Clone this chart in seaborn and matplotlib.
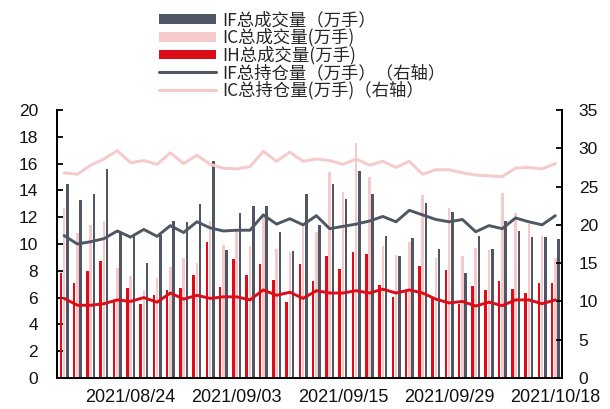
import numpy as np
import pandas as pd
import matplotlib
matplotlib.use("Agg")
import matplotlib.pyplot as plt
import seaborn as sns
from matplotlib.patches import Patch
from matplotlib.lines import Line2D

# Trading days
dates = [
    "2021/08/17", "2021/08/18", "2021/08/19", "2021/08/20", "2021/08/23",
    "2021/08/24", "2021/08/25", "2021/08/26", "2021/08/27", "2021/08/30",
    "2021/08/31", "2021/09/01", "2021/09/02", "2021/09/03", "2021/09/06",
    "2021/09/07", "2021/09/08", "2021/09/09", "2021/09/10", "2021/09/13",
    "2021/09/14", "2021/09/15", "2021/09/16", "2021/09/17", "2021/09/22",
    "2021/09/23", "2021/09/24", "2021/09/27", "2021/09/28", "2021/09/29",
    "2021/09/30", "2021/10/08", "2021/10/11", "2021/10/12", "2021/10/13",
    "2021/10/14", "2021/10/15", "2021/10/18",
]

# Daily volume (10k lots), left axis
if_volume = [14.45, 13.3, 13.7, 15.6, 10.8, 10.7, 8.6, 10.7, 11.7, 11.67,
             13.0, 16.2, 9.55, 12.3, 12.8, 12.8, 10.9, 9.5, 13.7,
             11.4, 14.45, 13.36, 15.45, 13.73, 10.6, 9.13, 10.45, 13.08,
             9.6, 12.36, 7.8, 10.6, 9.6, 11.74, 11.0, 10.55, 10.55, 10.35]
ic_volume = [12.7, 10.8, 11.4, 11.7, 8.2, 7.6, 6.6, 7.5, 8.3, 8.96,
             8.6, 11.7, 9.9, 11.0, 9.85, 12.2, 9.6, 9.4, 11.4,
             10.9, 15.4, 13.86, 17.56, 14.98, 9.88, 9.18, 10.15, 13.66,
             8.93, 12.66, 9.1, 9.73, 9.55, 13.8, 12.34, 11.5, 10.6, 8.93]
ih_volume = [7.8, 7.06, 8.0, 8.7, 5.7, 6.7, 5.5, 6.2, 6.6, 6.7,
             7.7, 10.15, 6.8, 8.9, 7.7, 8.5, 7.3, 5.7, 8.5,
             7.24, 9.13, 8.1, 9.38, 9.25, 6.94, 6.07, 6.57, 8.36,
             6.07, 8.06, 5.52, 6.87, 6.57, 7.24, 6.64, 6.32, 7.06, 7.1]

# Open interest (10k lots), right axis
if_oi = [18.6, 17.5, 17.8, 18.2, 19.2, 18.4, 19.4, 18.5, 19.9, 19.0,
         20.4, 19.6, 19.2, 19.3, 19.3, 21.3, 20.1, 20.8, 20.0,
         21.2, 19.5, 19.8, 20.1, 20.5, 21.1, 20.4, 21.9, 21.3,
         20.7, 20.4, 20.7, 19.1, 19.9, 19.5, 20.9, 20.4, 20.0, 21.2]
ic_oi = [26.8, 26.6, 27.8, 28.6, 29.7, 28.1, 28.4, 27.9, 29.4, 28.0,
         29.1, 27.9, 27.4, 27.3, 27.6, 29.6, 28.3, 29.5, 28.3,
         28.6, 28.4, 27.9, 28.6, 27.8, 28.3, 27.5, 28.3, 26.6,
         27.2, 27.2, 26.8, 26.5, 26.4, 26.3, 27.4, 27.5, 27.3, 28.0]
ih_oi = [10.4, 9.5, 9.5, 9.7, 10.2, 10.0, 10.5, 9.9, 11.1, 10.3,
         10.8, 10.4, 10.6, 10.6, 10.2, 11.5, 10.8, 11.2, 10.4,
         11.4, 11.1, 11.1, 11.4, 11.1, 11.6, 11.1, 11.5, 11.1,
         10.3, 9.8, 10.0, 9.4, 9.9, 9.45, 10.2, 10.2, 9.7, 10.2]

legend_labels = [
    "IF总成交量（万手）",
    "IC总成交量(万手)",
    "IH总成交量(万手)",
    "IF总持仓量（万手）（右轴）",
    "IC总持仓量(万手)（右轴）",
]
tick_every = 8
left_ticks = list(range(0, 21, 2))
right_ticks = list(range(0, 36, 5))

DARK = "#4E5763"
PINK = "#F6C9CB"
RED = "#DC0C18"

sns.set_theme(style="white")
plt.rcParams["font.family"] = ["Liberation Sans", "Noto Sans CJK SC", "DejaVu Sans"]

n = len(dates)
idx = np.arange(n)

vol = pd.DataFrame({
    "date": dates * 3,
    "series": ["IH"] * n + ["IC"] * n + ["IF"] * n,
    "volume": ih_volume + ic_volume + if_volume,
})

fig = plt.figure(figsize=(6.1, 4.09), dpi=100)
ax = fig.add_axes([57.5 / 610, 1 - 378 / 409, (562 - 57.5) / 610, (378 - 110) / 409])

sns.barplot(data=vol, x="date", y="volume", hue="series",
            hue_order=["IH", "IC", "IF"], palette=[RED, PINK, DARK],
            width=0.735, gap=0.22, saturation=1, linewidth=0,
            errorbar=None, legend=False, ax=ax)

ax2 = ax.twinx()
sns.lineplot(x=idx, y=ic_oi, color=PINK, lw=2.1, ax=ax2)
sns.lineplot(x=idx, y=if_oi, color=DARK, lw=2.1, ax=ax2)
sns.lineplot(x=idx, y=ih_oi, color=RED, lw=2.1, ax=ax2)

ax.set_xlim(-0.5, n - 0.5)
ax.set_ylim(0, 20)
ax2.set_ylim(0, 35)
ax.set_yticks(left_ticks)
ax2.set_yticks(right_ticks)
tick_pos = list(range(n - 1, -1, -tick_every))[::-1]
ax.set_xticks(tick_pos)
ax.set_xticklabels([dates[i] for i in tick_pos])
for a in (ax, ax2):
    a.set_xlabel("")
    a.set_ylabel("")
    a.spines["top"].set_visible(False)
    for s in ("left", "right", "bottom"):
        a.spines[s].set_color("black")
        a.spines[s].set_linewidth(1.3)

ax.tick_params(axis="y", direction="in", length=4, width=1.3, color="black",
               labelsize=12.5, pad=14, left=True)
ax.tick_params(axis="x", length=0, labelsize=13, pad=8)
ax2.tick_params(axis="y", direction="in", length=4, width=1.3, color="black",
                labelsize=12.5, pad=12, right=True)
for lab in ax.get_xticklabels() + ax.get_yticklabels() + ax2.get_yticklabels():
    lab.set_color("#111111")

handles = [
    Patch(facecolor=DARK, edgecolor="none"),
    Patch(facecolor=PINK, edgecolor="none"),
    Patch(facecolor=RED, edgecolor="none"),
    Line2D([], [], color=DARK, lw=2.2),
    Line2D([], [], color=PINK, lw=2.2),
]
fig.legend(handles, legend_labels, loc="upper left",
           bbox_to_anchor=(159 / 610, 1 - 11 / 409), frameon=False,
           prop={"family": ["Noto Sans CJK SC", "DejaVu Sans"], "size": 12.5},
           handlelength=3.3, handleheight=0.5, handletextpad=0.35,
           labelspacing=-0.04, borderpad=0, borderaxespad=0)

fig.savefig("out.png", dpi=100, facecolor="white")
